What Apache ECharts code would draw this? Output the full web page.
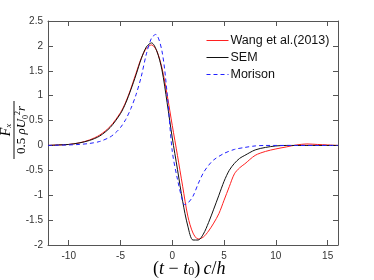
<!DOCTYPE html>
<html><head><meta charset="utf-8">
<script src="https://cdn.jsdelivr.net/npm/echarts@6/dist/echarts.min.js"></script>
<style>html,body{margin:0;padding:0;background:#fff}#c{width:374px;height:280px}</style>
</head><body><div id="c"></div>
<script>
const xTicks = [-10, -5, 0, 5, 10, 15];
const yTicks = [-2, -1.5, -1, -0.5, 0, 0.5, 1, 1.5, 2, 2.5];
const legendNames = ['Wang et al.(2013)', 'SEM', 'Morison'];

const wangX = [-12,-11,-10,-9,-8,-7,-6,-5,-4.5,-4,-3.5,-3,-2.5,-2,-1.5,-1,-0.5,0,0.5,1,1.5,2,2.5,3,3.5,4,4.5,5,5.5,6,6.5,7,8,9,10,11,12,13,14,15,16];
const wangY = [0,0.01,0.02,0.05,0.11,0.21,0.38,0.66,0.87,1.14,1.45,1.75,1.95,2.02,1.9,1.56,1.02,0.4,-0.2,-0.82,-1.42,-1.76,-1.88,-1.84,-1.72,-1.56,-1.37,-1.1,-0.83,-0.57,-0.45,-0.37,-0.2,-0.12,-0.07,-0.03,0.01,0.03,0.02,0.01,0];

const semX = [-12,-11,-10,-9,-8,-7,-6,-5,-4.5,-4,-3.5,-3,-2.5,-2,-1.5,-1,-0.5,0,0.5,1,1.5,2,2.5,3,3.5,4,4.5,5,5.5,6,6.5,7,8,9,10,11,12,14,16];
const semY = [0,0.01,0.02,0.05,0.1,0.19,0.36,0.64,0.85,1.12,1.42,1.74,1.98,2.06,1.9,1.52,0.86,0.15,-0.48,-1.12,-1.62,-1.9,-1.9,-1.78,-1.55,-1.28,-1.0,-0.72,-0.5,-0.36,-0.26,-0.2,-0.09,-0.04,-0.01,0,0,0,0];

const morX = [-12,-11,-10,-9,-8,-7,-6,-5.5,-5,-4.5,-4,-3.5,-3,-2.5,-2,-1.6,-1,-0.5,0,0.5,1,1.2,1.5,2,2.5,3,3.5,4,5,6,7,8,9,10,12,14,16];
const morY = [0,0.005,0.01,0.02,0.04,0.08,0.17,0.25,0.36,0.52,0.74,1.02,1.38,1.84,2.16,2.23,1.9,1.05,-0.12,-0.68,-1.12,-1.19,-1.16,-1.02,-0.77,-0.55,-0.4,-0.29,-0.16,-0.08,-0.04,-0.01,0,0,0,0,0];

const pairs = (xs, ys) => xs.map((x, i) => [x, ys[i]]);
const axisCol = '#555';
const sans = '"Liberation Sans", Arial, sans-serif';
const serif = '"Liberation Serif", "Times New Roman", serif';

const chart = echarts.init(document.getElementById('c'), null, {renderer: 'canvas'});
const xCommon = {
  type: 'value', min: -12, max: 16,
  axisLine: {show: true, onZero: false, lineStyle: {color: axisCol, width: 1}},
  axisTick: {show: true, inside: true, length: 5, customValues: xTicks, lineStyle: {color: axisCol}},
  splitLine: {show: false}
};
const yCommon = {
  type: 'value', min: -2, max: 2.5, interval: 0.5,
  axisLine: {show: true, onZero: false, lineStyle: {color: axisCol, width: 1}},
  axisTick: {show: true, inside: true, length: 5, lineStyle: {color: axisCol}},
  splitLine: {show: false}
};
chart.setOption({
  animation: false,
  grid: {left: 48, right: 36, top: 21, bottom: 35, containLabel: false},
  xAxis: [
    Object.assign({}, xCommon, {position: 'bottom',
      axisLabel: {show: true, customValues: xTicks, margin: 6, fontSize: 10, color: '#333', fontFamily: sans}}),
    Object.assign({}, xCommon, {position: 'top', axisLabel: {show: false}})
  ],
  yAxis: [
    Object.assign({}, yCommon, {position: 'left',
      axisLabel: {show: true, margin: 5, fontSize: 10, color: '#333', fontFamily: sans}}),
    Object.assign({}, yCommon, {position: 'right', axisLabel: {show: false}})
  ],
  legend: {
    orient: 'vertical', left: 206, top: 34, padding: 0, itemWidth: 22, itemHeight: 12, itemGap: 4,
    data: legendNames,
    itemStyle: {opacity: 0},
    lineStyle: {width: 1},
    textStyle: {fontSize: 12.5, color: '#111', fontFamily: sans, padding: [0, 0, 0, -3]}
  },
  series: [
    {name: legendNames[0], type: 'line', data: pairs(wangX, wangY), smooth: 0.3, symbol: 'none',
     lineStyle: {color: '#ff2020', width: 1}, itemStyle: {color: '#ff2020'}},
    {name: legendNames[1], type: 'line', data: pairs(semX, semY), smooth: 0.3, symbol: 'none',
     lineStyle: {color: '#111', width: 1}, itemStyle: {color: '#111'}},
    {name: legendNames[2], type: 'line', data: pairs(morX, morY), smooth: 0.3, symbol: 'none',
     lineStyle: {color: '#2020ff', width: 1, type: [4, 3]}, itemStyle: {color: '#2020ff'}}
  ],
  graphic: [
    {type: 'text', x: 153, y: 258,
     style: {
       text: '{n|(}{i|t}{n| − }{i|t}{s|0}{n|)} {i|c}{n|/}{i|h}',
       rich: {
         n: {fontFamily: serif, fontSize: 18, color: '#111', lineHeight: 20, verticalAlign: 'bottom'},
         i: {fontFamily: serif, fontStyle: 'italic', fontSize: 18, color: '#111', lineHeight: 20, verticalAlign: 'bottom'},
         s: {fontFamily: serif, fontSize: 12, color: '#111', lineHeight: 20, verticalAlign: 'bottom'}
       }
     }},
    {type: 'group', x: 14, y: 130, rotation: Math.PI / 2,
     children: [
       {type: 'line', shape: {x1: -29, y1: 0, x2: 29, y2: 0}, style: {stroke: '#111', lineWidth: 1}},
       {type: 'text', x: 0, y: -1,
        style: {text: '{i|F}{s|x}', align: 'center', verticalAlign: 'bottom',
          rich: {
            i: {fontFamily: serif, fontStyle: 'italic', fontSize: 14, color: '#111', lineHeight: 14, verticalAlign: 'top'},
            s: {fontFamily: serif, fontStyle: 'italic', fontSize: 9, color: '#111', lineHeight: 14, verticalAlign: 'bottom'}
          }}},
       {type: 'text', x: 0, y: 0,
        style: {text: '{n|0.5 }{i|ρU}{s|0}{p|2}{i|r}', align: 'center', verticalAlign: 'top',
          rich: {
            n: {fontFamily: serif, fontSize: 13, color: '#111', lineHeight: 16, verticalAlign: 'middle'},
            i: {fontFamily: serif, fontStyle: 'italic', fontSize: 13, color: '#111', lineHeight: 16, verticalAlign: 'middle'},
            s: {fontFamily: serif, fontSize: 8, color: '#111', lineHeight: 16, verticalAlign: 'bottom'},
            p: {fontFamily: serif, fontSize: 8, color: '#111', lineHeight: 16, verticalAlign: 'top'}
          }}}
     ]}
  ]
});
</script></body></html>
